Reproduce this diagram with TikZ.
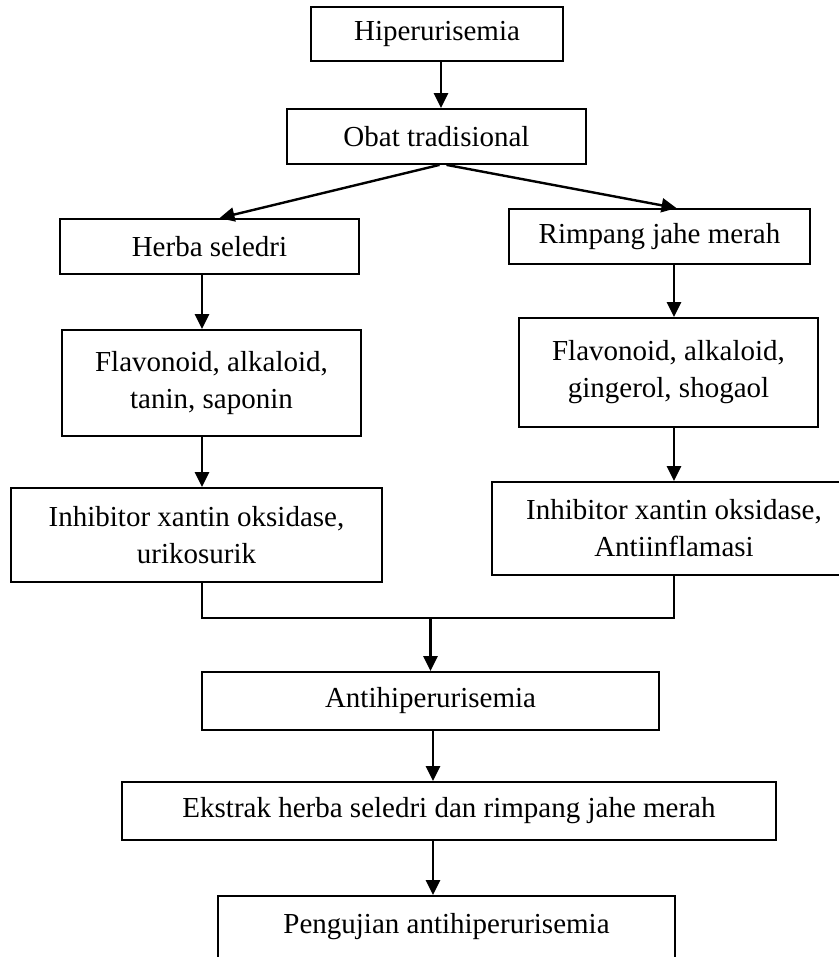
\documentclass[tikz,border=0pt]{standalone}
\usepackage{fontspec}
\setmainfont{Liberation Serif}
\usetikzlibrary{arrows.meta}
\tikzset{
    box/.style={
        draw=black,
        line width=1.8pt,
        inner sep=0pt,
        align=center,
        font=\fontsize{29}{37}\selectfont
    },
    % panah ke bawah
    downarrow/.style={
        line width=2.4pt,
        black,
        -{Triangle[length=15pt, width=14pt]}
    },
    joinline/.style={
        line width=1.2pt,
        black
    }
}

\begin{document}
\begin{tikzpicture}[x=1pt,y=-1pt]
    \useasboundingbox (0,0) rectangle (838,957);
    \node[box,minimum width=252pt,minimum height=54pt] (hiper) at (437,34) {Hiperurisemia};
    \node[box,minimum width=299pt,minimum height=55pt] (obat) at (436.5,136.5) {Obat tradisional};
    \node[box,minimum width=299pt,minimum height=55pt] (herba) at (209.5,246.5) {Herba seledri};
    \node[box,minimum width=301pt,minimum height=55pt] (rimpang) at (659.5,236.5) {Rimpang jahe merah};
    \node[box,minimum width=299pt,minimum height=106pt] (flavL) at (211.5,383) {Flavonoid, alkaloid,\\tanin, saponin};
    \node[box,minimum width=299pt,minimum height=109pt] (flavR) at (668.5,372.5) {Flavonoid, alkaloid,\\gingerol, shogaol};
    \node[box,minimum width=371pt,minimum height=94pt] (inhL) at (196.5,535) {Inhibitor xantin oksidase,\\urikosurik};
    \node[box,minimum width=364pt,minimum height=93pt] (inhR) at (674,528.5) {Inhibitor xantin oksidase,\\Antiinflamasi};
    \node[box,minimum width=457pt,minimum height=58pt] (anti) at (430.5,701) {Antihiperurisemia};
    \node[box,minimum width=654pt,minimum height=58pt] (ekstrak) at (449,811) {Ekstrak herba seledri dan rimpang jahe merah};
    \node[box,minimum width=457pt,minimum height=70pt,text height=20pt,text depth=16pt] (peng) at (446.5,931) {Pengujian antihiperurisemia};

    \coordinate (xtop) at (441,0);
    \coordinate (xl) at (202,618);
    \coordinate (xr) at (674,618);
    \coordinate (xm) at (433,0);

    \draw[downarrow] (hiper.south -| xtop) -- (obat.north -| xtop);
    \draw[downarrow] ([xshift=3pt]obat.south) -- ([xshift=10pt]herba.north);
    \draw[downarrow] ([xshift=10pt]obat.south) -- ([xshift=17pt]rimpang.north);
    \draw[downarrow] (herba.south -| xl) -- (flavL.north -| xl);
    \draw[downarrow] (flavL.south -| xl) -- (inhL.north -| xl);
    \draw[downarrow] (rimpang.south -| xr) -- (flavR.north -| xr);
    \draw[downarrow] (flavR.south -| xr) -- (inhR.north -| xr);
    \draw[joinline] (inhL.south -| xl) -- (xl) -- (xr) -- (inhR.south -| xr);
    \draw[downarrow] (anti.north |- xl) -- (anti.north);
    \draw[downarrow] (anti.south -| xm) -- (ekstrak.north -| xm);
    \draw[downarrow] (ekstrak.south -| xm) -- (peng.north -| xm);
\end{tikzpicture}
\end{document}
